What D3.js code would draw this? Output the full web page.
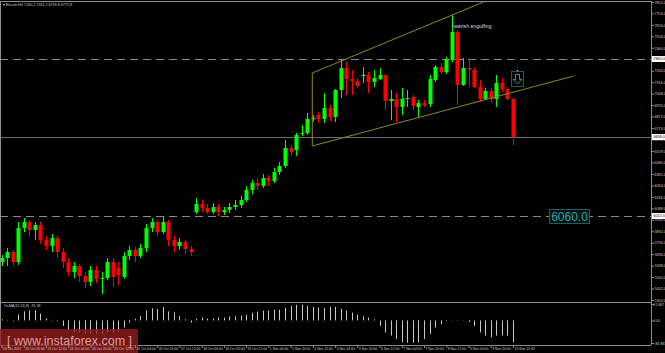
<!DOCTYPE html>
<html>
<head>
<meta charset="utf-8">
<script src="https://cdn.jsdelivr.net/npm/d3@7"></script>
<style>
  html, body { margin: 0; padding: 0; background: #000; }
  svg { display: block; font-family: "Liberation Sans", Arial, sans-serif; }
</style>
</head>
<body>
<div id="chart"></div>
<script>
// Bitcoin H4 candles
const opens  = [5629,5663,5714,5629,5920,5971,5903,5945,5817,5766,5834,5714,5629,5543,5595,5509,5458,5561,5484,5492,
                5629,5578,5501,5680,5732,5680,5749,5920,5971,5885,5971,5817,5766,5800,5740,6056,6125,6091,6056,6099,
                6056,6074,6099,6116,6159,6245,6304,6279,6347,6321,6398,6450,6604,6586,6728,6732,6856,6886,6852,6946,
                6869,7100,7288,7194,7176,7219,7228,7168,7194,7228,7005,7023,6954,7023,7040,6954,6988,6980,7185,7296,
                7253,7356,7595,7142,7288,7271,7125,7023,7091,7023,7159,7108,7023];
const highs  = [5689,5749,5732,5971,6005,5988,5971,5971,5851,5868,5851,5749,5663,5629,5612,5543,5595,5595,5543,5663,
                5663,5629,5714,5766,5757,5783,5954,6005,5988,6022,5988,5851,5834,5817,5766,6176,6159,6125,6133,6125,
                6099,6133,6159,6193,6279,6330,6347,6381,6373,6433,6484,6672,6629,6732,6800,6903,6886,6911,7074,6971,
                7108,7356,7339,7271,7202,7296,7253,7271,7288,7236,7100,7074,7117,7100,7057,7014,7014,7228,7313,7330,
                7382,7741,7613,7373,7373,7288,7185,7117,7117,7228,7202,7125,7040];
const lows   = [5595,5595,5595,5603,5885,5851,5817,5783,5732,5714,5663,5578,5509,5492,5458,5407,5424,5449,5355,5475,
                5415,5432,5484,5646,5629,5663,5714,5885,5851,5868,5766,5714,5732,5697,5680,6039,6056,6039,6039,6022,
                6031,6048,6074,6091,6142,6210,6245,6262,6279,6304,6373,6433,6535,6535,6706,6715,6826,6817,6817,6834,
                6826,7031,7057,7057,7117,7159,7074,7125,7185,6929,6843,6826,6886,6954,6929,6860,6954,6954,7168,7236,
                7236,7339,6971,7134,7125,7117,6997,7014,6988,6954,7082,7014,6629];
const closes = [5663,5714,5629,5920,5971,5903,5945,5817,5766,5834,5714,5629,5543,5595,5509,5458,5561,5484,5492,5629,
                5501,5518,5680,5732,5680,5749,5920,5971,5885,5971,5817,5766,5800,5740,5714,6125,6091,6056,6099,6056,
                6074,6099,6116,6159,6245,6304,6279,6347,6321,6398,6450,6604,6569,6715,6732,6852,6860,6852,6946,6869,
                7100,7288,7194,7176,7134,7228,7168,7202,7228,7005,7023,6954,7023,7031,6963,6988,6971,7194,7296,7253,
                7356,7595,7142,7288,7275,7125,7023,7091,7023,7159,7108,7023,6698];

// OsMA(12,26,9) histogram
const osma = [4,2,-2,22,34,38,38,25,7,2,-3,-21,-39,-45,-45,-51,-51,-51,-51,-45,
              -45,-42,-27,-8,6,16,38,46,43,50,34,30,16,4,-8,6,11,7,7,11,
              11,15,15,18,22,29,33,37,37,40,40,48,55,59,59,55,51,48,48,51,
              51,44,37,29,22,15,11,4,-21,-45,-57,-70,-82,-84,-84,-82,-70,-51,-27,-15,
              -2,1,1,-1,-6,-21,-45,-57,-63,-57,-57,-57,-82];

const timeLabels = ["20 Oct 2017","20 Oct 20:00","23 Oct 12:00","24 Oct 04:00","24 Oct 20:00","25 Oct 12:00",
                    "26 Oct 04:00","26 Oct 20:00","27 Oct 12:00","30 Oct 04:00","30 Oct 20:00","31 Oct 12:00",
                    "1 Nov 04:00","1 Nov 20:00","2 Nov 12:00","3 Nov 04:00","3 Nov 20:00","6 Nov 12:00",
                    "7 Nov 04:00","7 Nov 20:00","8 Nov 12:00","9 Nov 04:00","9 Nov 20:00","10 Nov 12:00"];
const priceTicks = [5304,5402,5500,5598,5696,5794,5892,5990,6088,6186,6284,6382,6480,6578,6676,
                    6774,6872,6970,7068,7166,7264,7362,7460,7558,7656,7754,7852];
const oscTicks = [61.687, 0, -84.881];

const levels = [7365.0, 6022.0];          // dashed support / resistance
const channelUpper = [[55.9, 7245], [86.7, 7852]];
const channelLower = [[55.9, 6621], [102.9, 7219]];

const width = 665, height = 353;
const plotRight = 651, mainBottom = 302, oscTop = 302, oscBottom = 345;
const smallFont = 3.7;

const svg = d3.select("#chart").append("svg")
    .attr("width", width)
    .attr("height", height);

svg.append("rect").attr("width", width).attr("height", height).attr("fill", "#000");

const xScale = d3.scaleLinear().domain([0, 92]).range([1.5, 513]);
const yScale = d3.scaleLinear().domain([5304, 7852]).range([300, 2]);
const oScale = d3.scaleLinear().domain([-84.881, 61.687]).range([343, 304]);

svg.append("clipPath").attr("id", "mainClip")
  .append("rect").attr("x", 0).attr("y", 2).attr("width", plotRight).attr("height", mainBottom - 2);
svg.append("clipPath").attr("id", "oscClip")
  .append("rect").attr("x", 0).attr("y", oscTop + 1).attr("width", plotRight).attr("height", oscBottom - oscTop - 1);

const main = svg.append("g").attr("clip-path", "url(#mainClip)");

// horizontal levels
main.selectAll("line.level")
  .data(levels)
  .enter().append("line")
    .attr("class", "level")
    .attr("x1", 0).attr("x2", plotRight)
    .attr("y1", d => Math.round(yScale(d)) + 0.5)
    .attr("y2", d => Math.round(yScale(d)) + 0.5)
    .attr("stroke", "#8a8a8a")
    .attr("stroke-dasharray", "8,5");

// current price line
const last = closes[closes.length - 1];
main.append("line")
    .attr("x1", 0).attr("x2", plotRight)
    .attr("y1", Math.round(yScale(last)) + 0.5)
    .attr("y2", Math.round(yScale(last)) + 0.5)
    .attr("stroke", "#6e6e6e");

// candles
const bars = d3.range(closes.length);
const color = i => closes[i] >= opens[i] ? "#00ff00" : "#ff0000";

main.selectAll("line.wick")
  .data(bars)
  .enter().append("line")
    .attr("class", "wick")
    .attr("x1", i => Math.round(xScale(i)) + 0.5)
    .attr("x2", i => Math.round(xScale(i)) + 0.5)
    .attr("y1", i => yScale(highs[i]))
    .attr("y2", i => yScale(lows[i]))
    .attr("stroke", color);

main.selectAll("rect.body")
  .data(bars)
  .enter().append("rect")
    .attr("class", "body")
    .attr("x", i => Math.round(xScale(i)) - 1.5)
    .attr("width", 4)
    .attr("y", i => yScale(Math.max(opens[i], closes[i])))
    .attr("height", i => Math.max(1, Math.abs(yScale(opens[i]) - yScale(closes[i]))))
    .attr("fill", color);

// channel
const chLine = d3.line().x(d => xScale(d[0])).y(d => yScale(d[1]));
[channelUpper, channelLower, [channelUpper[0], channelLower[0]]].forEach(pts => {
  main.append("path")
      .attr("d", chLine(pts))
      .attr("fill", "none")
      .attr("stroke", "#8a8a18")
      .attr("stroke-width", 1);
});

// annotations
main.append("text")
    .attr("x", 452).attr("y", 28)
    .attr("fill", "#d8d8d8")
    .attr("font-size", 5.2)
    .text("bearish engulfing");

main.append("rect")
    .attr("x", 511.5).attr("y", 71.5).attr("width", 12).attr("height", 15)
    .attr("fill", "none").attr("stroke", "#1d5f5f");
main.append("path")
    .attr("d", "M515.5,74.5 H519.5 V79.5 H522 L517.5,84 L513,79.5 H515.5 Z")
    .attr("fill", "none").attr("stroke", "#2a9a9a");
main.append("rect")
    .attr("x", 517).attr("y", 70).attr("width", 1).attr("height", 1).attr("fill", "#ffffff");

main.append("rect")
    .attr("x", 549.5).attr("y", 209.5).attr("width", 40).attr("height", 14)
    .attr("fill", "#061414").attr("stroke", "#1d5f5f");
main.append("text")
    .attr("x", 569.5).attr("y", 221)
    .attr("text-anchor", "middle")
    .attr("fill", "#2aa5a5")
    .attr("font-size", 12)
    .text("6060.0");

// OsMA histogram
const osc = svg.append("g").attr("clip-path", "url(#oscClip)");
osc.selectAll("line")
  .data(bars)
  .enter().append("line")
    .attr("x1", i => Math.round(xScale(i)) + 0.5)
    .attr("x2", i => Math.round(xScale(i)) + 0.5)
    .attr("y1", oScale(0))
    .attr("y2", i => oScale(osma[i]))
    .attr("stroke", "#c8c8c8")
    .attr("stroke-width", 1);

// frame
const frame = svg.append("g").attr("stroke", "#8c8c8c").attr("shape-rendering", "crispEdges");
frame.append("line").attr("x1", 0).attr("x2", plotRight).attr("y1", 1.5).attr("y2", 1.5);
frame.append("line").attr("x1", plotRight + 0.5).attr("x2", plotRight + 0.5).attr("y1", 1).attr("y2", oscBottom);
frame.append("line").attr("x1", 0).attr("x2", plotRight).attr("y1", mainBottom + 0.5).attr("y2", mainBottom + 0.5);
frame.append("line").attr("x1", 0).attr("x2", plotRight).attr("y1", oscBottom + 0.5).attr("y2", oscBottom + 0.5);
frame.append("line").attr("x1", 0.5).attr("x2", 0.5).attr("y1", 1).attr("y2", oscBottom);

// price axis
const fmt = d3.format(".1f");
const yAxis = svg.append("g")
    .attr("transform", `translate(${plotRight + 1},0)`)
    .call(d3.axisRight(yScale).tickValues(priceTicks).tickSize(2).tickFormat(fmt));
yAxis.select(".domain").remove();
yAxis.selectAll("line").attr("stroke", "#8c8c8c");
yAxis.selectAll("text").attr("fill", "#c8c8c8").attr("font-size", smallFont).attr("x", 2.5)
    .attr("font-family", "Liberation Sans, Arial, sans-serif");

// highlighted value boxes on the price axis
const tags = levels.concat([last]);
const tag = svg.append("g").selectAll("g").data(tags).enter().append("g")
    .attr("transform", d => `translate(${plotRight + 1},${Math.round(yScale(d))})`);
tag.append("rect").attr("x", 0).attr("y", -3).attr("width", 13).attr("height", 6).attr("fill", "#ffffff");
tag.append("text").attr("x", 1.5).attr("y", 1.4).attr("font-size", smallFont).attr("fill", "#000").text(fmt);

// oscillator axis
const oAxis = svg.append("g")
    .attr("transform", `translate(${plotRight + 1},0)`)
    .call(d3.axisRight(oScale).tickValues(oscTicks).tickSize(2).tickFormat(d => d === 0 ? "0.00" : d3.format(".3f")(d)));
oAxis.select(".domain").remove();
oAxis.selectAll("line").attr("stroke", "#8c8c8c");
oAxis.selectAll("text").attr("fill", "#c8c8c8").attr("font-size", 3.4).attr("x", 1.5)
    .attr("font-family", "Liberation Sans, Arial, sans-serif");

svg.append("text")
    .attr("x", 4).attr("y", 307)
    .attr("fill", "#c8c8c8").attr("font-size", smallFont)
    .text("OsMA(12,26,9) -76.38");

// header
svg.append("text")
    .attr("x", 3).attr("y", 6)
    .attr("fill", "#c8c8c8").attr("font-size", smallFont)
    .text("\u25BE Bitcoin,H4  7160.2 7161.2 6759.8 6775.9");

// watermark
svg.append("rect")
    .attr("x", 0).attr("y", 329).attr("width", 138).attr("height", 24)
    .attr("fill", "rgba(150,28,28,0.78)");
svg.append("text")
    .attr("x", 7).attr("y", 345)
    .attr("fill", "rgba(255,205,205,0.75)")
    .attr("font-size", 12.5)
    .text("[ www.instaforex.com ]");

// time axis
const xAxis = svg.append("g")
    .attr("transform", `translate(0,${oscBottom})`)
    .call(d3.axisBottom(xScale)
      .tickValues(timeLabels.map((d, k) => k * 4))
      .tickSize(3)
      .tickFormat((d, k) => timeLabels[k]));
xAxis.select(".domain").remove();
xAxis.selectAll("line").attr("stroke", "#8c8c8c");
xAxis.selectAll("text").attr("fill", "#c8c8c8").attr("font-size", 3.4)
    .attr("text-anchor", "start").attr("x", 1).attr("y", 2.5)
    .attr("font-family", "Liberation Sans, Arial, sans-serif");
</script>
</body>
</html>
